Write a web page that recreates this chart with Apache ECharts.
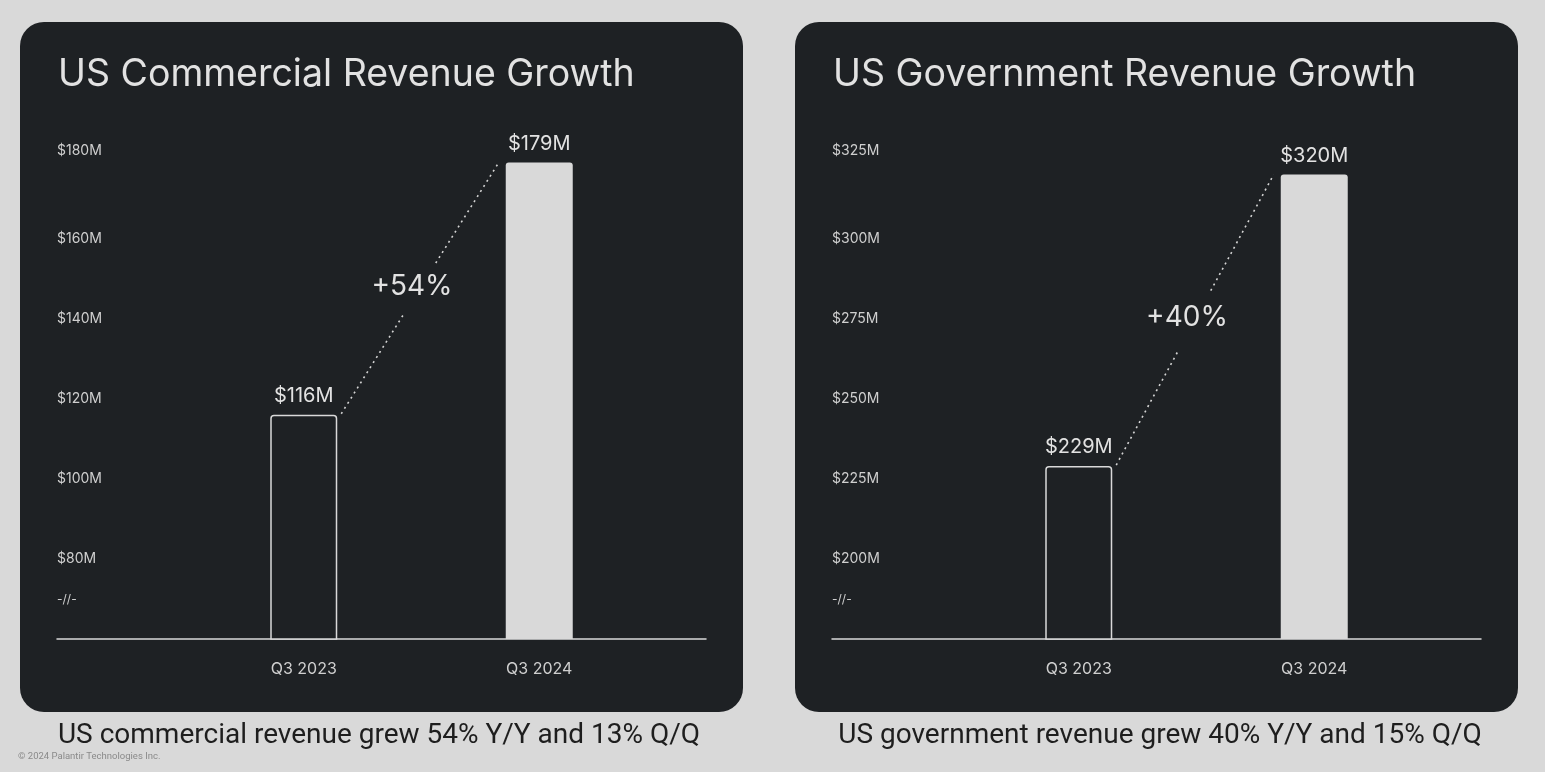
<!DOCTYPE html>
<html>
<head>
<meta charset="utf-8">
<style>
  html, body { margin: 0; padding: 0; background: #d9d9d9; }
  #chart { width: 1545px; height: 772px; }
</style>
<script src="https://cdn.jsdelivr.net/npm/echarts@6/dist/echarts.min.js"></script>
</head>
<body>
<div id="chart"></div>
<script>
// ---- data ----
const categories = ['Q3 2023', 'Q3 2024'];
const commercialValues = [116, 179];
const governmentValues = [229, 320];
const commercialTicks = [80, 100, 120, 140, 160, 180];
const governmentTicks = [200, 225, 250, 275, 300, 325];
const commercialBreak = 70;
const governmentBreak = 187.5;
const growthLabels = ['+54%', '+40%'];
const panelTitles = ['US Commercial Revenue Growth', 'US Government Revenue Growth'];
const captions = ['US commercial revenue grew 54% Y/Y and 13% Q/Q', 'US government revenue grew 40% Y/Y and 15% Q/Q'];
const footer = '\u00A9 2024 Palantir Technologies Inc.';

// ---- layout / style ----
const PANEL = '#1e2124';
const LIGHT = '#d9d9d9';
const TEXT = '#e2e2e2';
const FONT = 'Inter, "Noto Sans", sans-serif';
const BAR_W = 67;
const GRID_TOP = 158.5, GRID_BOTTOM = 772 - 639;

const panels = [
  { x: 20, axisLeft: 57, axisWidth: 649, barLeft: 186, barWidth: 471, captionX: 379,
    values: commercialValues, ticks: commercialTicks, brk: commercialBreak, min: 60, max: 180, interval: 10 },
  { x: 795, axisLeft: 832, axisWidth: 649, barLeft: 961, barWidth: 471, captionX: 1160,
    values: governmentValues, ticks: governmentTicks, brk: governmentBreak, min: 175, max: 325, interval: 12.5 }
];

const grids = [], xAxes = [], yAxes = [], series = [], titles = [], graphics = [];

panels.forEach((p, i) => {
  graphics.push({ type: 'rect', z: -10, shape: { x: p.x, y: 22, width: 723, height: 690, r: 24 }, style: { fill: PANEL } });
  titles.push({ text: panelTitles[i], left: p.axisLeft + 1, top: 56, padding: 0,
    textStyle: { color: TEXT, fontSize: 37.5, fontWeight: 400, fontFamily: FONT } });
  titles.push({ text: captions[i], left: p.captionX, top: 722, padding: 0, textAlign: 'center',
    textStyle: { color: '#1e1e1e', fontSize: 28, fontWeight: 400, fontFamily: 'Roboto, sans-serif' } });

  // full-width grid: y labels + baseline
  const gFull = grids.length;
  grids.push({ left: p.axisLeft, width: p.axisWidth, top: GRID_TOP, bottom: GRID_BOTTOM });
  xAxes.push({ gridIndex: gFull, type: 'value', min: 0, max: 1, splitLine: { show: false },
    axisLabel: { show: false }, axisTick: { show: false },
    axisLine: { show: true, lineStyle: { color: LIGHT, width: 1.5 } } });
  yAxes.push({ gridIndex: gFull, type: 'value', min: p.min, max: p.max, interval: p.interval,
    splitLine: { show: false }, axisLine: { show: false }, axisTick: { show: false },
    axisLabel: { inside: true, margin: 0, color: '#cfcfcf', fontSize: 14, fontFamily: FONT,
      rich: { top: { color: '#cfcfcf', fontSize: 14, fontFamily: FONT, padding: [0, 0, 16, 0] },
              brk: { color: '#cfcfcf', fontSize: 12, fontFamily: FONT } },
      formatter: (v) => {
        if (Math.abs(v - p.brk) < 1e-6) return '{brk|-//-}';
        if (v === p.max) return '{top|$' + v + 'M}';
        return p.ticks.includes(v) ? '$' + v + 'M' : '';
      } } });

  // bars grid
  const gBar = grids.length;
  grids.push({ left: p.barLeft, width: p.barWidth, top: GRID_TOP, bottom: GRID_BOTTOM });
  xAxes.push({ gridIndex: gBar, type: 'category', data: categories,
    axisLine: { show: false }, axisTick: { show: false },
    axisLabel: { color: '#cfcfcf', fontSize: 16, margin: 22, fontFamily: FONT } });
  yAxes.push({ gridIndex: gBar, type: 'value', min: p.min, max: p.max, show: false });

  series.push({
    type: 'bar', xAxisIndex: gBar, yAxisIndex: gBar, barWidth: BAR_W,
    data: p.values.map((v, k) => ({
      value: v,
      itemStyle: k === 0
        ? { color: PANEL, borderColor: LIGHT, borderWidth: 1.5, borderRadius: [3, 3, 0, 0] }
        : { color: LIGHT, borderRadius: [3, 3, 0, 0] }
    })),
    label: { show: true, position: 'top', distance: 9, color: TEXT, fontSize: 20, fontFamily: FONT,
      formatter: (o) => '$' + o.value + 'M' },
    z: 2
  });

  series.push({
    type: 'custom', xAxisIndex: gBar, yAxisIndex: gBar, z: 3, silent: true,
    data: [[0, p.values[0], p.values[1]]],
    renderItem: (params, api) => {
      const a = api.coord([0, api.value(1)]);
      const b = api.coord([1, api.value(2)]);
      const s = [a[0] + BAR_W / 2 + 4, a[1] - 1];
      const e = [b[0] - BAR_W / 2 - 7, b[1]];
      const lerp = (t) => [s[0] + (e[0] - s[0]) * t, s[1] + (e[1] - s[1]) * t];
      const m1 = lerp(0.4), m2 = lerp(0.6), mid = lerp(0.5);
      const ls = { stroke: '#d4d4d4', lineWidth: 1.6, lineDash: [2, 4] };
      return { type: 'group', children: [
        { type: 'line', shape: { x1: s[0], y1: s[1], x2: m1[0], y2: m1[1] }, style: ls },
        { type: 'line', shape: { x1: m2[0], y1: m2[1], x2: e[0], y2: e[1] }, style: ls },
        { type: 'text', x: mid[0] - 8, y: mid[1] - 2, style: { text: growthLabels[i], fill: TEXT, fontSize: 28,
          fontFamily: FONT, align: 'center', verticalAlign: 'middle' } }
      ] };
    }
  });
});

titles.push({ text: footer, left: 18, top: 752, padding: 0,
  textStyle: { color: '#8a8a8a', fontSize: 9.5, fontWeight: 400, fontFamily: 'Roboto, sans-serif' } });

const chart = echarts.init(document.getElementById('chart'));
chart.setOption({
  backgroundColor: '#d9d9d9',
  animation: false,
  title: titles,
  graphic: graphics,
  grid: grids,
  xAxis: xAxes,
  yAxis: yAxes,
  series: series
});
</script>
</body>
</html>
